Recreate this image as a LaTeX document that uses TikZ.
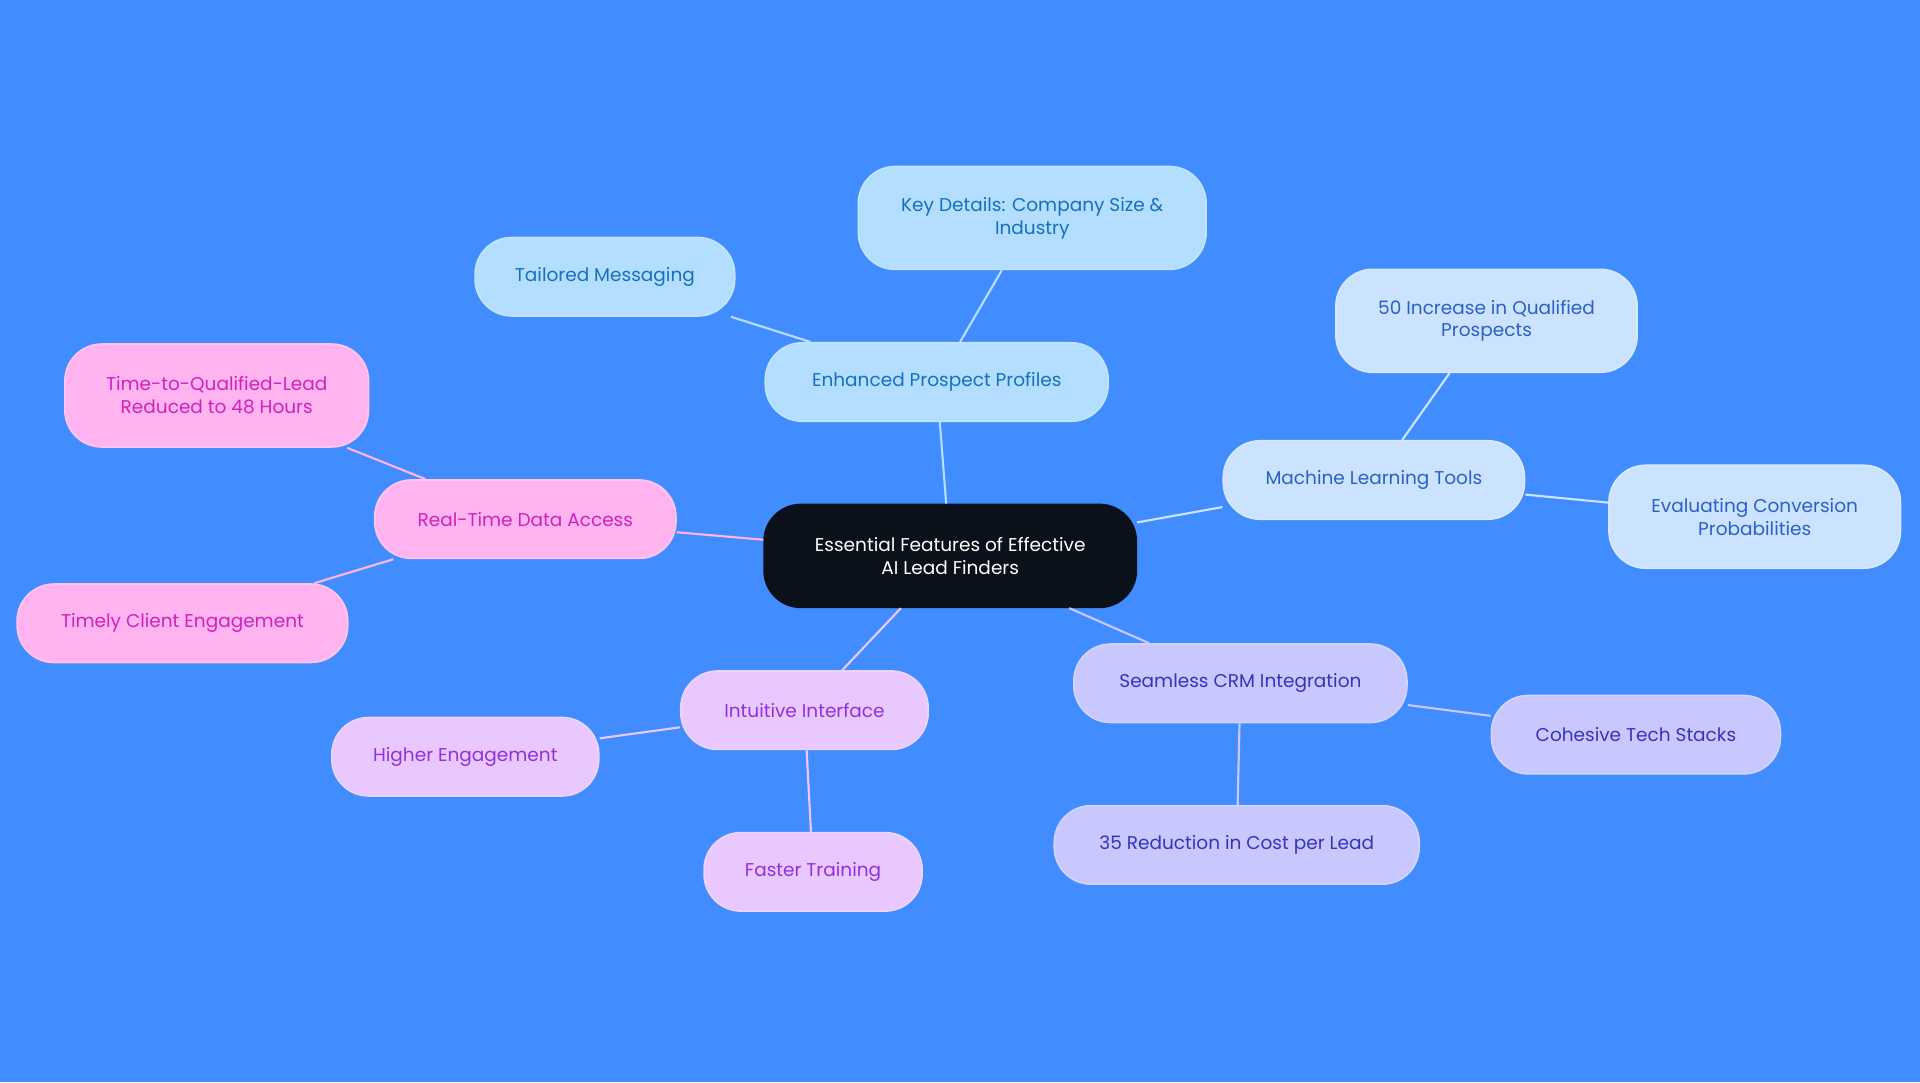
\documentclass[tikz,border=0pt]{standalone}
\usepackage{fontspec}
\setmainfont{Poppins}
\usetikzlibrary{positioning}
\definecolor{bgblue}{HTML}{418CFF}
\definecolor{rootfill}{HTML}{0B111A}
\definecolor{skyfill}{HTML}{B3DEFF}
\definecolor{skytext}{HTML}{1670C0}
\definecolor{mistfill}{HTML}{CCE3FF}
\definecolor{misttext}{HTML}{2A60C8}
\definecolor{lavfill}{HTML}{C8C8FF}
\definecolor{lavtext}{HTML}{3434C0}
\definecolor{lilacfill}{HTML}{E8C8FF}
\definecolor{lilactext}{HTML}{9030E0}
\definecolor{pinkfill}{HTML}{FFB4F0}
\definecolor{pinktext}{HTML}{D020C0}
\tikzset{
  idea/.style={draw, rounded corners=0.6cm, align=center, inner sep=2pt,
    font=\fontsize{8.6}{10.6}\selectfont, line width=0.8pt},
  root/.style={idea, fill=rootfill, draw=rootfill, text=white},
  sky/.style={idea, fill=skyfill, draw=skyfill!80!white, text=skytext},
  mist/.style={idea, fill=mistfill, draw=mistfill!80!white, text=misttext},
  lav/.style={idea, fill=lavfill, draw=lavfill!80!white, text=lavtext},
  lilac/.style={idea, fill=lilacfill, draw=lilacfill!80!white, text=lilactext},
  pink/.style={idea, fill=pinkfill, draw=pinkfill!80!white, text=pinktext},
  link/.style={line width=1pt}
}
\begin{document}
\begin{tikzpicture}[x=0.02cm, y=-0.02cm]
    \fill[bgblue] (0,0) rectangle (1568,884);
    \useasboundingbox (0,0) rectangle (1568,884);

    \node[root, minimum width=6.08cm, minimum height=1.68cm] (Root) at (776,454) {Essential Features of Effective\\AI Lead Finders};

    \node[sky, minimum width=5.6cm, minimum height=1.28cm] (Prof) at (765,312) {Enhanced Prospect Profiles};
    \node[sky, minimum width=5.68cm, minimum height=1.68cm] (Key) at (843,178) {Key Details: Company Size \&\\Industry};
    \node[sky, minimum width=4.24cm, minimum height=1.28cm] (Tail) at (494,226) {Tailored Messaging};

    \node[mist, minimum width=4.92cm, minimum height=1.28cm] (Ml) at (1122,392) {Machine Learning Tools};
    \node[mist, minimum width=4.92cm, minimum height=1.68cm] (Incr) at (1214,262) {50 Increase in Qualified\\Prospects};
    \node[mist, minimum width=4.76cm, minimum height=1.68cm] (Eval) at (1433,422) {Evaluating Conversion\\Probabilities};

    \node[lav, minimum width=5.44cm, minimum height=1.28cm] (Crm) at (1013,558) {Seamless CRM Integration};
    \node[lav, minimum width=4.72cm, minimum height=1.28cm] (Tech) at (1336,600) {Cohesive Tech Stacks};
    \node[lav, minimum width=5.96cm, minimum height=1.28cm] (Cost) at (1010,690) {35 Reduction in Cost per Lead};

    \node[lilac, minimum width=4.04cm, minimum height=1.28cm] (Ui) at (657,580) {Intuitive Interface};
    \node[lilac, minimum width=4.36cm, minimum height=1.28cm] (Eng) at (380,618) {Higher Engagement};
    \node[lilac, minimum width=3.56cm, minimum height=1.28cm] (Train) at (664,712) {Faster Training};

    \node[pink, minimum width=4.92cm, minimum height=1.28cm] (Rt) at (429,424) {Real-Time Data Access};
    \node[pink, minimum width=4.96cm, minimum height=1.68cm] (Ttq) at (177,323) {Time-to-Qualified-Lead\\Reduced to 48 Hours};
    \node[pink, minimum width=5.4cm, minimum height=1.28cm] (Timely) at (149,509) {Timely Client Engagement};

    \begin{scope}[on background layer/.try]
    \end{scope}
    \draw[link, skyfill] (Root) -- (Prof);
    \draw[link, skyfill] (Prof) -- (Key);
    \draw[link, skyfill] (Prof) -- (Tail);
    \draw[link, mistfill] (Root) -- (Ml);
    \draw[link, mistfill] (Ml) -- (Incr);
    \draw[link, mistfill] (Ml) -- (Eval);
    \draw[link, lavfill] (Root) -- (Crm);
    \draw[link, lavfill] (Crm) -- (Tech);
    \draw[link, lavfill] (Crm) -- (Cost);
    \draw[link, lilacfill] (Root) -- (Ui);
    \draw[link, lilacfill] (Ui) -- (Eng);
    \draw[link, lilacfill] (Ui) -- (Train);
    \draw[link, pinkfill] (Root) -- (Rt);
    \draw[link, pinkfill] (Rt) -- (Ttq);
    \draw[link, pinkfill] (Rt) -- (Timely);
\end{tikzpicture}
\end{document}
